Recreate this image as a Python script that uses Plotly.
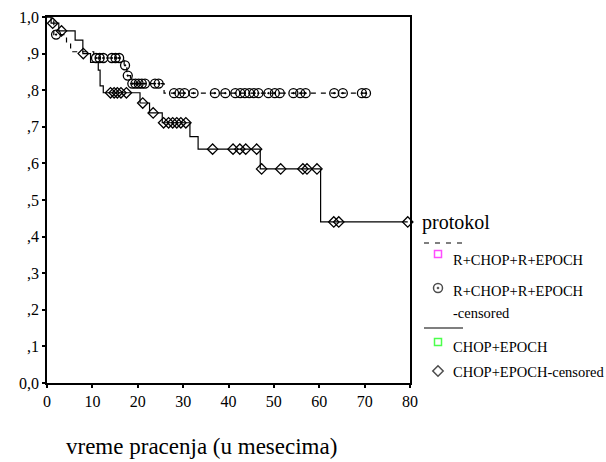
import plotly.graph_objects as go

W, H = 606, 462

# ---------------- data ----------------
# R+CHOP+R+EPOCH (dashed)
rchop_step_time = [0, 1.5, 4.3, 5.2, 10.3, 17.0, 17.6, 18.4, 25.8]
rchop_step_surv = [1.0, 0.952, 0.928, 0.905, 0.888, 0.868, 0.840, 0.818, 0.792]
rchop_end_time = 70.3
rchop_cens_time = [2.0,
                   10.8, 11.6, 12.4, 14.3, 15.1, 15.9,
                   17.2, 17.8,
                   18.8, 19.5, 20.2, 20.9, 21.6, 23.8, 24.6,
                   28.0, 29.2, 30.3, 32.3, 37.0, 39.3, 41.5, 42.6, 43.6, 44.6,
                   45.6, 46.6, 48.8, 50.2, 51.3, 54.3, 55.8, 57.0, 63.3, 65.2,
                   69.4, 70.3]
rchop_cens_surv = [0.952,
                   0.888, 0.888, 0.888, 0.888, 0.888, 0.888,
                   0.868, 0.840,
                   0.818, 0.818, 0.818, 0.818, 0.818, 0.818, 0.818,
                   0.792, 0.792, 0.792, 0.792, 0.792, 0.792, 0.792, 0.792, 0.792, 0.792,
                   0.792, 0.792, 0.792, 0.792, 0.792, 0.792, 0.792, 0.792, 0.792, 0.792,
                   0.792, 0.792]

# CHOP+EPOCH (solid)
chop_step_time = [0, 0.9, 2.6, 6.2, 7.9, 9.6, 11.3, 11.7, 12.4, 20.5, 22.6,
                  25.4, 31.5, 33.3, 47.0, 60.3]
chop_step_surv = [1.0, 0.983, 0.962, 0.937, 0.900, 0.876, 0.855, 0.812, 0.793,
                  0.765, 0.738, 0.711, 0.673, 0.639, 0.585, 0.440]
chop_end_time = 79.5
chop_cens_time = [1.25, 3.2, 8.0,
                  14.0, 14.8, 15.5, 16.3, 17.5,
                  21.1, 23.4,
                  25.7, 26.8, 27.7, 28.6, 29.5, 30.6,
                  36.5, 41.0, 42.5, 43.8, 46.2,
                  47.3, 51.5, 56.4, 57.3, 59.5,
                  63.2, 64.3, 79.5]
chop_cens_surv = [0.983, 0.962, 0.900,
                  0.793, 0.793, 0.793, 0.793, 0.793,
                  0.765, 0.738,
                  0.711, 0.711, 0.711, 0.711, 0.711, 0.711,
                  0.639, 0.639, 0.639, 0.639, 0.639,
                  0.585, 0.585, 0.585, 0.585, 0.585,
                  0.440, 0.440, 0.440]

x_ticks = [0, 10, 20, 30, 40, 50, 60, 70, 80]
y_ticks = [0, 0.1, 0.2, 0.3, 0.4, 0.5, 0.6, 0.7, 0.8, 0.9, 1.0]
y_tick_labels = ["0,0", ",1", ",2", ",3", ",4", ",5", ",6", ",7", ",8", ",9", "1,0"]

legend_title = "protokol"
legend_labels = ["R+CHOP+R+EPOCH", "R+CHOP+R+EPOCH", "-censored",
                 "CHOP+EPOCH", "CHOP+EPOCH-censored"]
x_title = "vreme pracenja (u mesecima)"

# ---------------- figure ----------------
FONT = "'Liberation Serif', 'DejaVu Serif', 'Times New Roman', serif"
px = lambda v: v / W
py = lambda v: 1 - v / H

fig = go.Figure()

fig.add_trace(go.Scatter(
    x=rchop_step_time + [rchop_end_time],
    y=rchop_step_surv + [rchop_step_surv[-1]],
    mode="lines", line=dict(color="black", width=1.2, dash="5px,5px", shape="hv"),
    showlegend=False, hoverinfo="skip", cliponaxis=False))
fig.add_trace(go.Scatter(
    x=chop_step_time + [chop_end_time],
    y=chop_step_surv + [chop_step_surv[-1]],
    mode="lines", line=dict(color="black", width=1.2, shape="hv"),
    showlegend=False, hoverinfo="skip", cliponaxis=False))
fig.add_trace(go.Scatter(
    x=rchop_cens_time, y=rchop_cens_surv, mode="markers",
    marker=dict(symbol="circle-open-dot", size=9, color="black", line=dict(width=1.3, color="black")),
    showlegend=False, cliponaxis=False))
fig.add_trace(go.Scatter(
    x=chop_cens_time, y=chop_cens_surv, mode="markers",
    marker=dict(symbol="diamond-open", size=8, color="black", line=dict(width=1.3, color="black")),
    showlegend=False, cliponaxis=False))

# legend glyphs on a pixel-space overlay axis
leg_x = 438
fig.add_trace(go.Scatter(
    x=[leg_x, leg_x, leg_x, leg_x], y=[254, 288, 342, 371], xaxis="x2", yaxis="y2",
    mode="markers", hoverinfo="skip", showlegend=False,
    marker=dict(symbol=["square-open", "circle-open-dot", "square-open", "diamond-open"],
                size=[7, 9, 7, 8],
                color=["#ff00ff", "black", "#00ff00", "black"],
                line=dict(width=1.5, color=["#ff00ff", "black", "#00ff00", "black"]))))

shapes = [
    dict(type="line", xref="paper", yref="paper", x0=px(424), x1=px(463), y0=py(243), y1=py(243),
         line=dict(color="black", width=1.2, dash="5px,6px")),
    dict(type="line", xref="paper", yref="paper", x0=px(424), x1=px(463), y0=py(328), y1=py(328),
         line=dict(color="black", width=1.2)),
]

annotations = [
    dict(text=legend_title, x=px(420), y=py(223), xref="paper", yref="paper",
         xanchor="left", yanchor="middle", showarrow=False, font=dict(family=FONT, size=20, color="black")),
    dict(text=x_title, x=px(201), y=py(446), xref="paper", yref="paper",
         xanchor="center", yanchor="middle", showarrow=False, font=dict(family=FONT, size=23, color="black")),
]
for lab, yy in zip(legend_labels, [260, 291, 313, 347, 372]):
    annotations.append(dict(text=lab, x=px(451), y=py(yy), xref="paper", yref="paper",
                            xanchor="left", yanchor="middle", showarrow=False,
                            font=dict(family=FONT, size=14.5, color="black")))

fig.update_layout(
    width=W, height=H, margin=dict(l=0, r=0, t=0, b=0),
    paper_bgcolor="white", plot_bgcolor="rgba(0,0,0,0)",
    font=dict(family=FONT, size=16, color="black"),
    showlegend=False,
    xaxis=dict(domain=[47 / W, 410 / W], range=[0, 80], tickvals=x_ticks,
               ticks="outside", ticklen=3, tickwidth=2, tickcolor="black",
               showline=True, mirror=True, linecolor="black", linewidth=1.5,
               showgrid=False, zeroline=False, automargin=False, fixedrange=True),
    yaxis=dict(domain=[1 - 383 / H, 1 - 17 / H], range=[0, 1], tickvals=y_ticks, ticktext=y_tick_labels,
               ticks="outside", ticklen=3, tickwidth=2, tickcolor="black",
               showline=True, mirror=True, linecolor="black", linewidth=1.5,
               showgrid=False, zeroline=False, automargin=False, fixedrange=True),
    xaxis2=dict(domain=[0, 1], range=[0, W], visible=False, anchor="y2", fixedrange=True),
    yaxis2=dict(domain=[0, 1], range=[H, 0], visible=False, anchor="x2", fixedrange=True),
    shapes=shapes, annotations=annotations,
)

fig.write_html("out.html")
